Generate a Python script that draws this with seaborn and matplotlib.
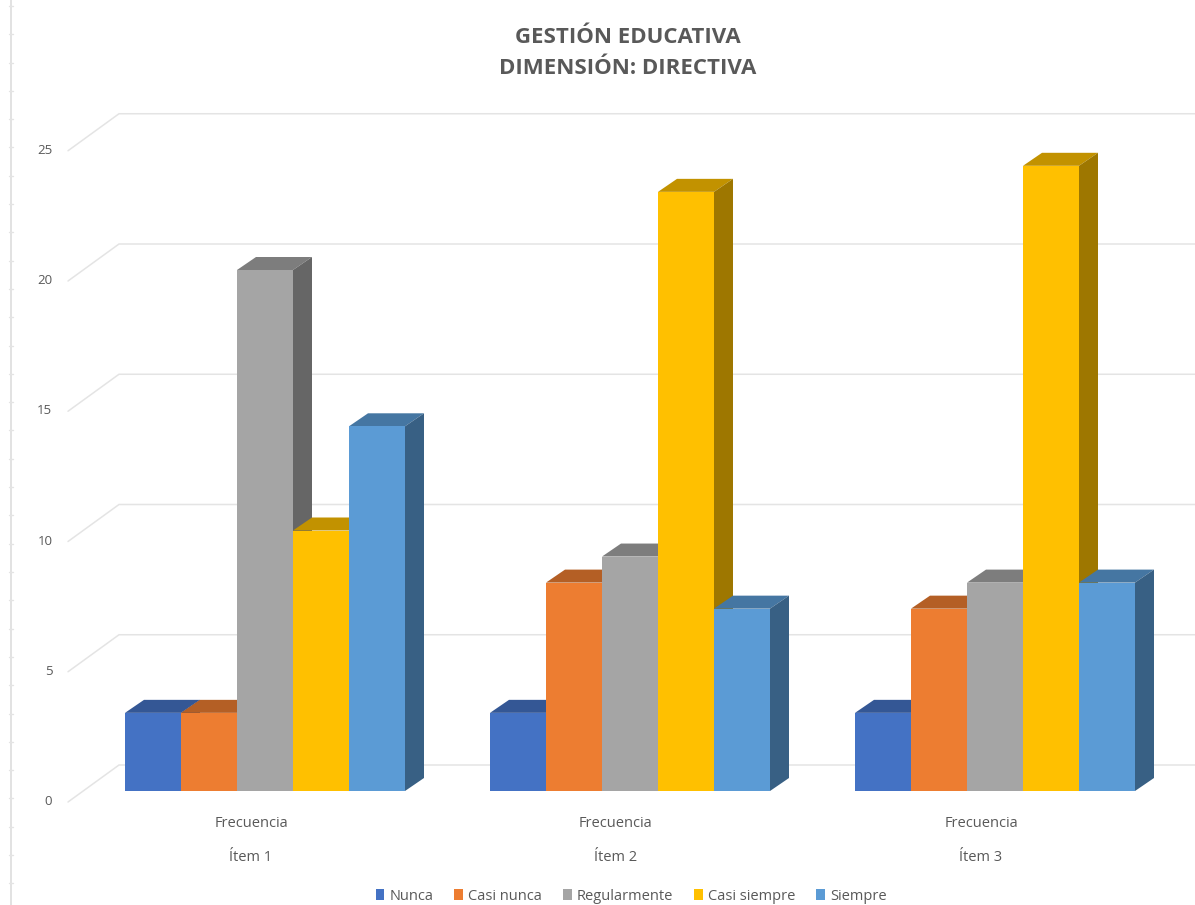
import matplotlib
matplotlib.use("Agg")
import matplotlib.pyplot as plt
from matplotlib.lines import Line2D
from matplotlib.patches import Patch, Polygon
from matplotlib.colors import to_rgb
from matplotlib.transforms import ScaledTranslation
import pandas as pd
import seaborn as sns

items = ["Ítem 1", "Ítem 2", "Ítem 3"]
series = ["Nunca", "Casi nunca", "Regularmente", "Casi siempre", "Siempre"]
nunca = [3, 3, 3]
casi_nunca = [3, 8, 7]
regularmente = [20, 9, 8]
casi_siempre = [10, 23, 24]
siempre = [14, 7, 8]
colors = ["#4472C4", "#ED7D31", "#A5A5A5", "#FFC000", "#5B9BD5"]
y_ticks = [0, 5, 10, 15, 20, 25]

sns.set_theme(style="white")
plt.rcParams["font.family"] = ["Open Sans", "DejaVu Sans"]
TXT = "#595959"
W, H = 1195, 905
fig = plt.figure(figsize=(W / 100, H / 100), dpi=100, facecolor="white")

# axes rectangle in pixels (baseline of the bars = axes bottom)
L, R, T, B = 60, 1195, 100, 791
ax = fig.add_axes([L / W, 1 - B / H, (R - L) / W, (B - T) / H])
GROUP = 365.0
UNIT = 26.05
C0 = 265.0
ax.set_xlim((L - C0) / GROUP, (R - C0) / GROUP)
ax.set_ylim(0, (B - T) / UNIT)
px = lambda p: (p - C0) / GROUP

df = pd.DataFrame({"item": items * 5,
                   "serie": [s for s in series for _ in items],
                   "valor": nunca + casi_nunca + regularmente + casi_siempre + siempre})
sns.barplot(data=df, x="item", y="valor", hue="serie", order=items, hue_order=series,
            palette=colors, width=280 / GROUP, gap=0, saturation=1, legend=False,
            errorbar=None, ax=ax, linewidth=0)
ax.set_xlim((L - C0) / GROUP, (R - C0) / GROUP)
ax.set_ylim(0, (B - T) / UNIT)

# depth of the fake 3-D extrusion
DX, DY = 19 / GROUP, 13 / UNIT
for i, (cont, col) in enumerate(zip(ax.containers, colors)):
    base = to_rgb(col)
    top_c = tuple(c * 0.76 for c in base)
    side_c = tuple(c * 0.62 for c in base)
    for bar in cont:
        x0, w, h = bar.get_x(), bar.get_width(), bar.get_height()
        x1 = x0 + w
        bar.set_zorder(4 + 2 * i)
        bar.set_clip_on(False)
        ax.add_patch(Polygon([(x0, h), (x1, h), (x1 + DX, h + DY), (x0 + DX, h + DY)],
                             closed=True, fc=top_c, ec="none", zorder=3 + 2 * i, clip_on=False))
        ax.add_patch(Polygon([(x1, 0), (x1 + DX, DY), (x1 + DX, h + DY), (x1, h)],
                             closed=True, fc=side_c, ec="none", zorder=3 + 2 * i, clip_on=False))

# perspective gridlines: short diagonal on the left wall, then the back wall
for v in y_ticks:
    back = v + 26 / UNIT
    ax.plot([px(68), px(119), px(R)], [v - 11 / UNIT, back, back], color="#E4E4E4",
            lw=1.1, zorder=1, clip_on=False, solid_joinstyle="miter")

sns.despine(ax=ax, left=True, bottom=True)
ax.set_xlabel("")
ax.set_ylabel("")
ax.set_yticks(y_ticks)
ax.set_yticklabels([str(v) for v in y_ticks])
ax.tick_params(axis="y", length=0, pad=5.5, labelsize=9.5, labelcolor=TXT)
ax.set_xticks(range(len(items)))
ax.set_xticklabels([f"Frecuencia\n{t}" for t in items], linespacing=2.72)
ax.tick_params(axis="x", length=0, pad=18, labelsize=10.5, labelcolor=TXT)
for lab in ax.get_yticklabels():
    lab.set_transform(lab.get_transform() + ScaledTranslation(0, -9 / 100, fig.dpi_scale_trans))
for lab in ax.get_xticklabels():
    lab.set_transform(lab.get_transform() + ScaledTranslation(-14 / 100, 0, fig.dpi_scale_trans))

fig.text(628 / W, 1 - 53 / H, "GESTIÓN EDUCATIVA\nDIMENSIÓN: DIRECTIVA", ha="center", va="center",
         fontsize=16, fontweight="bold", color=TXT, linespacing=1.65)

# faint ruler on the left edge
fig.add_artist(Line2D([10.5 / W, 10.5 / W], [0, 1], color="#DDDDDD", lw=1.2))
for k in range(32):
    yy = 1 - (6 + 28.3 * k) / H
    fig.add_artist(Line2D([8.5 / W, 12.5 / W], [yy, yy], color="#E4E4E4", lw=1))

handles = [Patch(fc=c, ec="none", label=s) for c, s in zip(colors, series)]
fig.legend(handles=handles, ncol=5, loc="center", bbox_to_anchor=(631 / W, 1 - 896 / H),
           frameon=False, fontsize=10.5, labelcolor=TXT, handlelength=0.6, handleheight=0.8,
           handletextpad=0.35, columnspacing=1.43)

fig.savefig("out.png", dpi=100)
